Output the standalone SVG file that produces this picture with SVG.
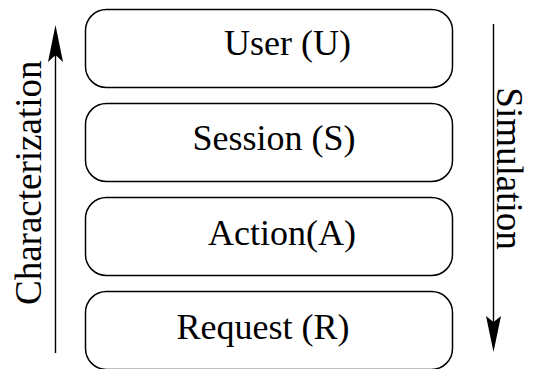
<svg xmlns="http://www.w3.org/2000/svg" width="535" height="369" viewBox="0 0 535 369">
  <style>
    .box { fill: #ffffff; stroke: #000000; stroke-width: 1.5; }
    .lbl { font-family: 'Liberation Serif', 'Times New Roman', serif; font-size: 36px; fill: #000000; }
    .side { font-family: 'Liberation Serif', 'Times New Roman', serif; font-size: 37px; fill: #000000; }
    .flow { stroke: #000000; stroke-width: 1.4; fill: none; }
    .head { fill: #000000; stroke: none; }
  </style>
  <rect width="535" height="369" fill="#ffffff"/>

  <!-- layered levels -->
  <g id="user">
    <rect class="box" x="85.5" y="9.5" width="367" height="78" rx="21" ry="21"/>
    <text class="lbl" x="224" y="55">User (U)</text>
  </g>
  <g id="session">
    <rect class="box" x="85.5" y="103.5" width="367" height="78" rx="21" ry="21"/>
    <text class="lbl" x="192.5" y="149.5">Session (S)</text>
  </g>
  <g id="action">
    <rect class="box" x="85.5" y="197.5" width="367" height="78" rx="21" ry="21"/>
    <text class="lbl" x="208" y="244.5">Action(A)</text>
  </g>
  <g id="request">
    <rect class="box" x="85.5" y="291.5" width="367" height="78" rx="21" ry="21"/>
    <text class="lbl" x="176.5" y="338.5">Request (R)</text>
  </g>

  <!-- direction arrows -->
  <g id="connectors">
    <line class="flow" x1="55.5" y1="353" x2="55.5" y2="50"/>
    <path class="head" d="M55.5,25 L63,62 L55.5,55 L48,62 Z"/>
    <line class="flow" x1="493.5" y1="24" x2="493.5" y2="325"/>
    <path class="head" d="M493.5,352 L486,316 L493.5,322 L501,316 Z"/>
  </g>

  <g id="side-labels">
    <text class="side" transform="translate(40.7,305) rotate(-90)">Characterization</text>
    <text class="side" transform="translate(497.3,87.3) rotate(90)">Simulation</text>
  </g>
</svg>
